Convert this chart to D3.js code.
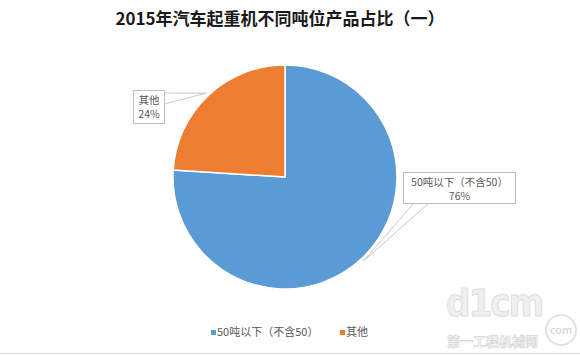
<!DOCTYPE html>
<html>
<head>
<meta charset="utf-8">
<script src="https://cdn.jsdelivr.net/npm/d3@7"></script>
<style>
  body { margin: 0; background: #fff; }
  svg { display: block; font-family: "Noto Sans CJK SC", "Noto Sans", sans-serif; }
</style>
</head>
<body>
<div id="chart"></div>
<script>
;(function() {
  "use strict";

  // Data
  // ---------------------------------------------------------------------------
  var categories = ["50吨以下（不含50）", "其他"];
  var shares = [76, 24];
  var colors = ["#5b9bd5", "#ed7d31"];
  var title = "2015年汽车起重机不同吨位产品占比（一）";

  var width = 580, height = 355;
  var cx = 285, cy = 177, radius = 112;

  // callout boxes: [x, y, w, h] and wedge base points
  var callouts = [
    { box: [403, 172, 112, 31], base: [[414, 203], [429, 203]] },
    { box: [133, 90, 31, 33], base: [[164, 93], [164, 104]] }
  ];

  var svg = d3.select("#chart").append("svg")
    .attr("width", width)
    .attr("height", height);

  // Title
  svg.append("text")
    .attr("x", 280)
    .attr("y", 25)
    .attr("text-anchor", "middle")
    .attr("font-size", 17)
    .attr("font-weight", "bold")
    .attr("fill", "#1a1a1a")
    .text(title);

  // Pie
  // ---------------------------------------------------------------------------
  var pie = d3.pie().sort(null).value(function(d) { return d; });
  var arcs = pie(shares);

  var arc = d3.arc().innerRadius(0).outerRadius(radius);

  var g = svg.append("g").attr("transform", "translate(" + [cx, cy] + ")");

  g.selectAll("path")
    .data(arcs)
    .enter().append("path")
      .attr("d", arc)
      .attr("fill", function(d, i) { return colors[i]; })
      .attr("stroke", "#fff")
      .attr("stroke-width", 1.5);

  // Callout labels
  // ---------------------------------------------------------------------------
  arcs.forEach(function(d, i) {
    var c = callouts[i];
    var mid = (d.startAngle + d.endAngle) / 2;
    var r = radius + 3;
    var tip = [cx + r * Math.sin(mid), cy - r * Math.cos(mid)];
    var b = c.box;

    svg.append("path")
      .attr("d", "M" + c.base[0] + "L" + tip + "L" + c.base[1])
      .attr("fill", "none")
      .attr("stroke", "#c8c8c8")
      .attr("stroke-width", 1);

    svg.append("rect")
      .attr("x", b[0] + 0.5).attr("y", b[1] + 0.5)
      .attr("width", b[2]).attr("height", b[3])
      .attr("fill", "#fff")
      .attr("stroke", "#bfbfbf");

    var t = svg.append("text")
      .attr("text-anchor", "middle")
      .attr("font-size", 10.5)
      .attr("fill", "#595959");
    t.append("tspan")
      .attr("x", b[0] + b[2] / 2 + 0.5).attr("y", b[1] + 14)
      .text(categories[i]);
    t.append("tspan")
      .attr("x", b[0] + b[2] / 2 + 0.5).attr("y", b[1] + 28)
      .text(shares[i] + "%");
  });

  // Legend
  // ---------------------------------------------------------------------------
  var legendX = [211, 340];
  var legend = svg.selectAll(".legend")
    .data(categories)
    .enter().append("g")
      .attr("class", "legend")
      .attr("transform", function(d, i) { return "translate(" + legendX[i] + ",330)"; });

  legend.append("rect")
    .attr("width", 5).attr("height", 5)
    .attr("fill", function(d, i) { return colors[i]; });

  legend.append("text")
    .attr("x", 6).attr("y", 6)
    .attr("font-size", 11)
    .attr("fill", "#595959")
    .text(function(d) { return d; });

  // Watermark
  // ---------------------------------------------------------------------------
  var wm = svg.append("g");
  wm.append("text")
    .attr("x", 446).attr("y", 316)
    .attr("font-family", "DejaVu Sans Condensed, DejaVu Sans")
    .attr("font-weight", "bold")
    .attr("font-size", 38)
    .attr("letter-spacing", -2)
    .attr("fill", "#f0f0f0")
    .attr("stroke", "#dedede")
    .text("d1cm");
  wm.append("circle")
    .attr("cx", 561).attr("cy", 330).attr("r", 15)
    .attr("fill", "#fff").attr("stroke", "#e2e2e2").attr("stroke-width", 2);
  wm.append("text")
    .attr("x", 561).attr("y", 334)
    .attr("text-anchor", "middle")
    .attr("font-size", 11)
    .attr("fill", "#d0d0d0")
    .text("com");
  wm.append("text")
    .attr("x", 447).attr("y", 346)
    .attr("font-size", 13)
    .attr("font-weight", "bold")
    .attr("fill", "#fafafa")
    .attr("stroke", "#d6d6d6")
    .attr("stroke-width", 0.7)
    .text("第一工程机械网");

  // bottom rule
  svg.append("line")
    .attr("x1", 0).attr("x2", width)
    .attr("y1", 353.5).attr("y2", 353.5)
    .attr("stroke", "#d9d9d9");
})();
</script>
</body>
</html>
